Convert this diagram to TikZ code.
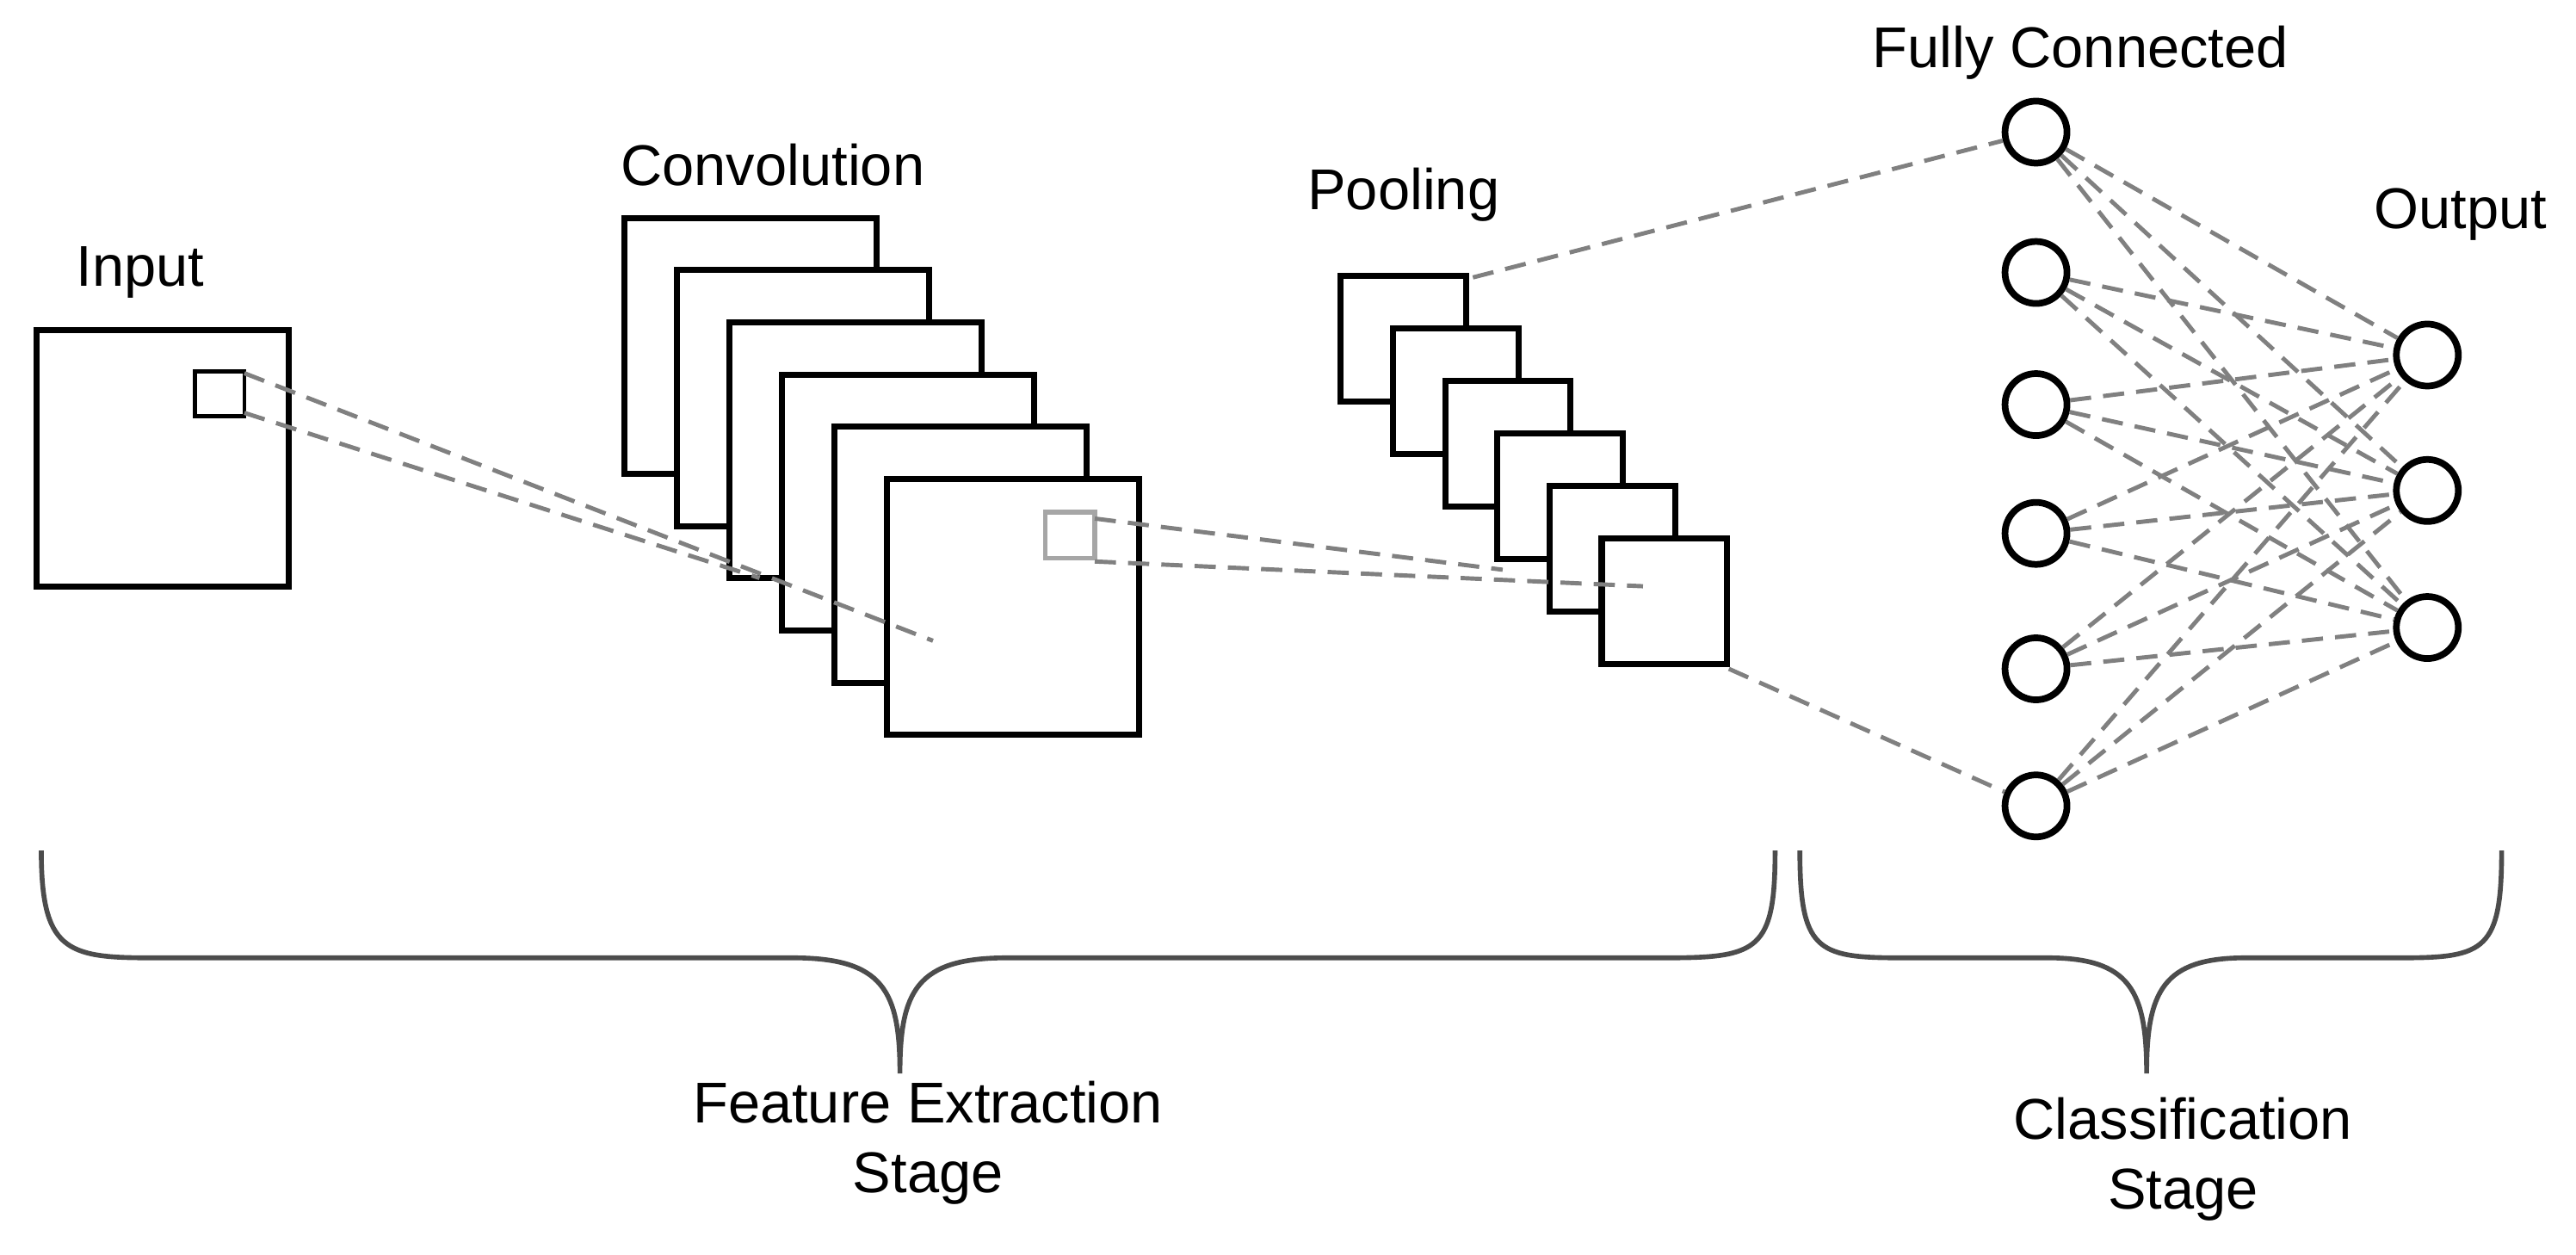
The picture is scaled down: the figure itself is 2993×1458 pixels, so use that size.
\documentclass[tikz,border=0pt]{standalone}
\usepackage{fontspec}
\setmainfont{Liberation Sans}
\begin{document}
\begin{tikzpicture}[x=0.01cm,y=-0.01cm,
  sq/.style={draw=black,fill=white,line width=2pt},
  dl/.style={draw=gray,line width=1.4pt,dash pattern=on 7pt off 4pt},
  neu/.style={circle,draw=black,fill=white,line width=2.2pt,minimum size=0.72cm,inner sep=0pt},
  lbl/.style={font=\fontsize{19}{23}\selectfont,align=center},
  br/.style={draw=black!70,line width=1.6pt}]
\useasboundingbox (0,0) rectangle (2993,1458);
\begin{scope}[x=0.01cm*2993/1560,y=-0.01cm*2993/1560]
% input
\draw[sq] (22,200) rectangle (175,355);
\draw[line width=1.3pt] (118,225) rectangle (148,252);
\node[lbl] (tin) at (85,165) {Input};
\coordinate (inA) at (148,226);
\coordinate (inB) at (148,250);
% conv
\foreach \i in {0,...,5}{
  \draw[sq] ({378+31.8*\i},{132+31.6*\i}) rectangle ++(153,155);
}
\node[lbl] (tconv) at (468,100) {Convolution};
\coordinate (cA) at (460,350);
\coordinate (cB) at (565,388);
\draw[dl] (inA) -- (cB);
\draw[dl] (inB) -- (cA);
\draw[gray!70,line width=1.6pt] (633,310) rectangle (663,338);
% pooling
\foreach \i in {0,...,5}{
  \draw[sq] ({812+31.6*\i},{167+31.8*\i}) rectangle ++(76,76);
}
\node[lbl] (tpool) at (850,118) {Pooling};
\coordinate (pA) at (910,345);
\coordinate (pB) at (995,355);
\coordinate (pTop) at (892,168);
\coordinate (pBot) at (1047,405);
\draw[dl] (663,314) -- (pA);
\draw[dl] (663,340) -- (pB);
% FC
\foreach \y [count=\k] in {80,165,245,323,405,488}{
  \node[neu] (f\k) at (1233,\y) {};
}
\foreach \y [count=\k] in {215,297,380}{
  \node[neu] (o\k) at (1470,\y) {};
}
\foreach \a in {1,...,6}{\foreach \b in {1,2,3}{\draw[dl] (f\a) -- (o\b);}}
\draw[dl] (pTop) -- (f1);
\draw[dl] (pBot) -- (f6);
\node[lbl] (tfc) at (1260,32) {Fully Connected};
\node[lbl] (tout) at (1490,130) {Output};
% braces
\draw[br] (25,515) .. controls (25,575) and (40,580) .. (90,580) -- (480,580)
  .. controls (535,580) and (545,600) .. (545,650)
  .. controls (545,600) and (555,580) .. (610,580) -- (1010,580)
  .. controls (1065,580) and (1075,575) .. (1075,515);
\draw[br] (1090,515) .. controls (1090,575) and (1100,580) .. (1150,580) -- (1240,580)
  .. controls (1290,580) and (1300,600) .. (1300,650)
  .. controls (1300,600) and (1310,580) .. (1360,580) -- (1455,580)
  .. controls (1505,580) and (1515,575) .. (1515,515);
\node[lbl] (tfe) at (562,692) {Feature Extraction\\Stage};
\node[lbl] (tcl) at (1322,702) {Classification\\Stage};
\end{scope}
\end{tikzpicture}
\end{document}
